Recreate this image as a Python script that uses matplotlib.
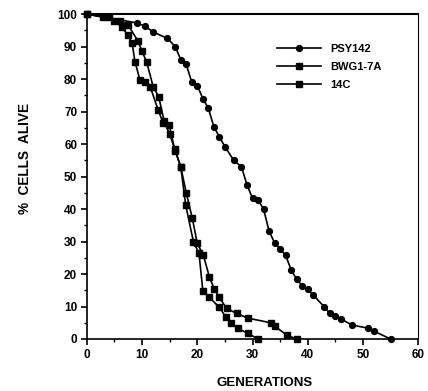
import matplotlib
matplotlib.use("Agg")
import matplotlib.pyplot as plt
from matplotlib.ticker import MultipleLocator

# Data
psy_gen = [0, 9, 10.6, 12, 14.6, 16, 17, 18, 19, 20, 21, 22, 23, 24, 25, 26.6, 28,
           29, 30, 31, 32, 33, 34, 35, 36, 37, 38, 39, 40, 41, 43, 44, 45, 46, 48, 51, 52, 55]
psy_pct = [100, 97.3, 96.2, 94.5, 92.5, 90, 86, 84.5, 79, 78, 74, 71, 65.3, 62.2, 59.2, 55, 53,
           47.4, 43.3, 42.8, 40, 33.2, 29.6, 27.7, 25.8, 21.2, 18.4, 16.4, 15.3, 13.5, 9.9, 7.9, 7.2, 6.2, 4.3, 3.3, 2.4, 0]

bwg_gen = [0, 4, 6, 7.5, 9.3, 10, 10.8, 12, 13, 14, 15, 16, 17, 18, 19.1, 20, 21.1, 22.2,
           23.1, 24, 25.3, 27.1, 29.2, 33.3, 34, 36.2, 38]
bwg_pct = [100, 99, 98, 96.5, 91.6, 88.5, 85.4, 77.7, 74.6, 67, 63, 58, 53, 45, 37.1, 29.4, 25.8, 19,
           15.3, 12.8, 9.4, 7.9, 6.4, 5, 4, 1.2, 0]

c14_gen = [0, 3, 5, 6.3, 7.4, 8.2, 8.7, 9.6, 10.5, 11.5, 12.9, 13.8, 14.9, 15.9, 17, 17.9,
           19.3, 20.3, 21, 22.2, 24, 25.2, 26.1, 27.3, 29.2, 31]
c14_pct = [100, 99, 98, 96, 93.6, 91, 85.4, 79.8, 79, 77.5, 70.5, 66.6, 65.8, 58.4, 53, 41.2,
           29.9, 26.4, 14.9, 12.8, 9.7, 6.7, 4.8, 3.3, 1.7, 0]

labels = ["PSY142", "BWG1-7A", "14C"]
x_ticks = [0, 10, 20, 30, 40, 50, 60]
y_ticks = [0, 10, 20, 30, 40, 50, 60, 70, 80, 90, 100]

plt.rcParams['font.family'] = ['Liberation Sans', 'DejaVu Sans']

fig = plt.figure(figsize=(4.28, 3.91), dpi=100)
ax = fig.add_axes([0.203, 0.133, 0.774, 0.831])

lw = 1.2
ax.plot(psy_gen, psy_pct, '-o', color='black', lw=lw, ms=4.2, label=labels[0], clip_on=False, zorder=3)
ax.plot(bwg_gen, bwg_pct, '-s', color='black', lw=lw, ms=4.6, label=labels[1], clip_on=False, zorder=3)
ax.plot(c14_gen, c14_pct, '-s', color='black', lw=lw, ms=4.6, label=labels[2], clip_on=False, zorder=3)

ax.set_xlim(0, 60)
ax.set_ylim(0, 100)
ax.set_xticks(x_ticks)
ax.set_yticks(y_ticks)
ax.xaxis.set_minor_locator(MultipleLocator(5))
ax.yaxis.set_minor_locator(MultipleLocator(5))
ax.tick_params(which='major', direction='out', length=4, width=1.2, labelsize=8.5, pad=3)
ax.tick_params(which='minor', direction='out', length=2.5, width=1.0)
for lab in ax.get_xticklabels() + ax.get_yticklabels():
    lab.set_fontweight('bold')
for sp in ax.spines.values():
    sp.set_linewidth(1.2)
ax.spines['top'].set_linewidth(1.5)
ax.spines['right'].set_linewidth(0.8)

ax.set_xlabel("GENERATIONS", fontsize=9.5, fontweight='bold')
ax.xaxis.set_label_coords(0.535, -0.118)
ax.set_ylabel("%  CELLS  ALIVE", fontsize=9.8, fontweight='bold')
ax.yaxis.set_label_coords(-0.165, 0.557)

leg = ax.legend(loc='upper left', bbox_to_anchor=(0.565, 0.918), frameon=False,
                fontsize=8, handlelength=3.9, handletextpad=0.9, labelspacing=0.72,
                borderaxespad=0, borderpad=0.3)
for t in leg.get_texts():
    t.set_fontweight('bold')

fig.savefig("out.png", dpi=100)
